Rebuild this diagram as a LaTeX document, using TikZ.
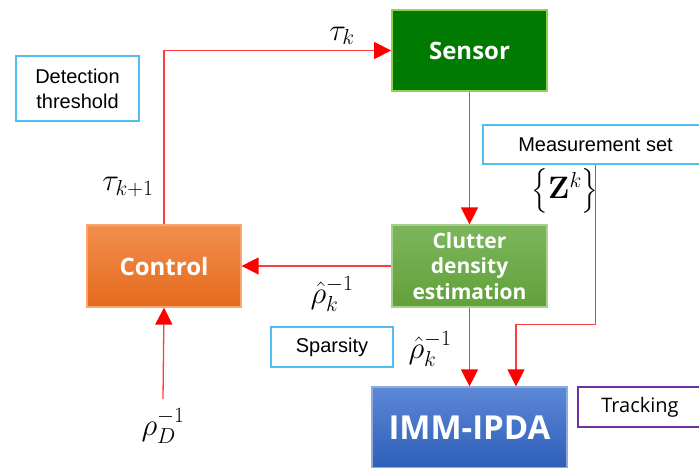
\RequirePackage{fix-cm}
\documentclass[tikz,border=0pt]{standalone}
\usepackage{amsmath}
\usepackage[no-math]{fontspec}
\setmainfont{Liberation Sans}
\newfontfamily\boxfont{Open Sans}
\usetikzlibrary{
  arrows.meta,
  positioning,
}
\definecolor{SensorFill}{RGB}{0,122,0}
\definecolor{SensorEdge}{RGB}{146,208,80}
\definecolor{ControlTop}{RGB}{242,142,78}
\definecolor{ControlBot}{RGB}{228,106,28}
\definecolor{ControlEdge}{RGB}{246,166,110}
\definecolor{ClutterTop}{RGB}{124,182,92}
\definecolor{ClutterBot}{RGB}{98,160,58}
\definecolor{ClutterEdge}{RGB}{169,209,142}
\definecolor{ImmTop}{RGB}{92,136,214}
\definecolor{ImmBot}{RGB}{46,94,184}
\definecolor{ImmEdge}{RGB}{143,170,220}
\definecolor{NoteBlue}{RGB}{80,190,240}
\definecolor{NotePurple}{RGB}{112,48,160}
\definecolor{LineRed}{RGB}{255,60,60}
\tikzset{
  block/.style = {
    draw,
    line width=1.2pt,
    inner sep=0pt,
    align=center,
    text=white,
    font=\boxfont\bfseries\fontsize{24}{25}\selectfont
  },
  note box/.style = {
    draw=NoteBlue,
    line width=1.2pt,
    fill=white,
    inner sep=0pt,
    align=center,
    font=\fontsize{20}{25}\selectfont
  },
  signal/.style = {
    draw=LineRed,
    line width=1.3pt,
    -{Triangle[length=17pt,width=17pt,color=red,fill=red]}
  },
  sig label/.style = {
    inner sep=0pt,
    font=\fontsize{31}{33}\selectfont
  },
}

\begin{document}
\begin{tikzpicture}[x=1pt, y=-1pt]
  \useasboundingbox (0,0) rectangle (699,468);
  %% blocks
  \node (sensor) [block, fill=SensorFill, draw=SensorEdge, line width=1.8pt,
    minimum width=155pt, minimum height=81pt] at (469.5,50.5) {Sensor};
  \node (control) [block, top color=ControlTop, bottom color=ControlBot, draw=ControlEdge,
    minimum width=154pt, minimum height=82pt] at (164,266) {Control};
  \node (clutter) [block, top color=ClutterTop, bottom color=ClutterBot, draw=ClutterEdge,
    minimum width=155pt, minimum height=82pt,
    font=\boxfont\bfseries\fontsize{21}{25.5}\selectfont] at (469.5,266)
    {Clutter\\density\\estimation};
  \node (imm) [block, top color=ImmTop, bottom color=ImmBot, draw=ImmEdge,
    minimum width=195pt, minimum height=81pt,
    font=\boxfont\bfseries\fontsize{33}{35}\selectfont] at (469.5,427.5) {IMM-IPDA};
  %% notes
  \node (threshold) [note box, minimum width=123pt, minimum height=65pt] at (77.5,88.5)
    {Detection\\threshold};
  \node (measset) [note box, minimum width=225pt, minimum height=39pt] at (595.5,144.5)
    {Measurement set};
  \node (sparsity) [note box, minimum width=122pt, minimum height=40pt] at (332,347)
    {Sparsity};
  \node (tracking) [note box, draw=NotePurple, minimum width=124pt, minimum height=40pt,
    font=\boxfont\fontsize{20}{25}\selectfont] at (640,407) {Tracking};
  %% signal labels
  \node (tauk) [sig label] at (342,36) {$\tau_k$};
  \node (taunext) [sig label] at (128,187) {$\tau_{k+1}$};
  \node (rhoest) [sig label] at (332,294) {$\hat{\rho}_k^{-1}$};
  \node (rhotrk) [sig label] at (430,349) {$\hat{\rho}_k^{-1}$};
  \node (zset) [sig label] at (565,191) {$\left\{\mathbf{Z}^k\right\}$};
  \node (rhod) [sig label] at (163,426) {$\rho_D^{-1}$};
  \coordinate (dinput) at (163,399);
  %% connectors
  \draw[signal] (control.north) |- (sensor.west);
  \draw[signal] (sensor.south) -- (clutter.north);
  \draw[signal] (clutter.west) -- (control.east);
  \draw[signal] (clutter.south) -- (imm.north);
  \draw[signal] (measset.south) -- ++(0,160) -| ([xshift=46.5pt]imm.north);
  \draw[signal] (dinput) -- (control.south);
\end{tikzpicture}
\end{document}
